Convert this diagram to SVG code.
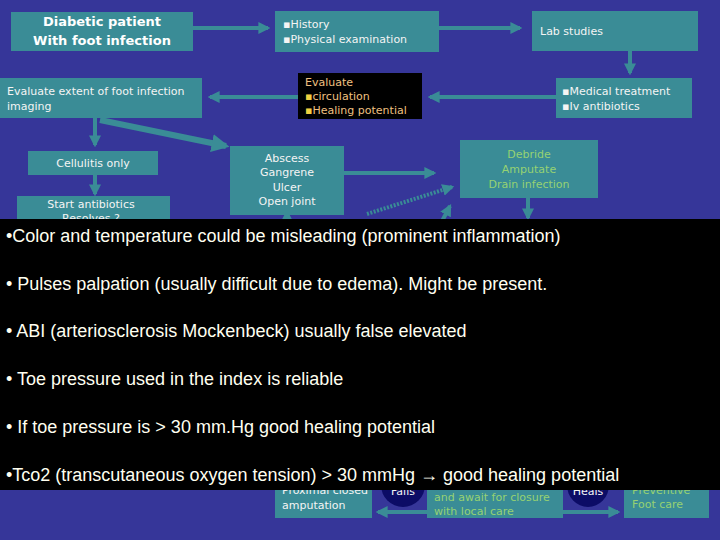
<svg xmlns="http://www.w3.org/2000/svg" width="720" height="540" viewBox="0 0 720 540">
<style>
.b{fill:#3a8c96}
.t{font-family:"DejaVu Sans",sans-serif;font-size:11px;fill:#f4f4f4}
.g{font-family:"DejaVu Sans",sans-serif;font-size:11px;fill:#96d273}
.c{stroke:#3a8c96;stroke-width:4;fill:none}
.ov{font-family:"Liberation Sans",Arial,sans-serif;font-size:18px;fill:#fffff0}
</style>
<defs>
<marker id="a" viewBox="0 0 10 10" refX="8" refY="5" markerWidth="3" markerHeight="3" orient="auto"><path d="M0,0L10,5L0,10z" fill="#3a8c96"/></marker>
</defs>
<rect width="720" height="540" fill="#363699"/>
<g id="connectors">
<line class="c" x1="193" y1="28" x2="268" y2="28" marker-end="url(#a)"/>
<line class="c" x1="439" y1="28" x2="520" y2="28" marker-end="url(#a)"/>
<line class="c" x1="630" y1="51" x2="630" y2="73" marker-end="url(#a)"/>
<line class="c" x1="556" y1="97" x2="430" y2="97" marker-end="url(#a)"/>
<line class="c" x1="298" y1="97" x2="210" y2="97" marker-end="url(#a)"/>
<line class="c" x1="95" y1="118" x2="95" y2="145" marker-end="url(#a)"/>
<line stroke="#3a8c96" stroke-width="6" x1="100" y1="120" x2="226" y2="146" marker-end="url(#a)"/>
<line class="c" x1="95" y1="175" x2="95" y2="194" marker-end="url(#a)"/>
<line class="c" x1="344" y1="173" x2="434" y2="173" marker-end="url(#a)"/>
<line class="c" x1="528" y1="198" x2="528" y2="218" marker-end="url(#a)"/>
<line class="c" stroke-dasharray="2,1.5" x1="367" y1="214" x2="452" y2="187" marker-end="url(#a)"/>
<line class="c" x1="287" y1="222" x2="287" y2="212" marker-end="url(#a)"/>
<line class="c" x1="440" y1="225" x2="450" y2="206" marker-end="url(#a)"/>
<line class="c" x1="427" y1="512" x2="378" y2="512" marker-end="url(#a)"/>
<line class="c" x1="563" y1="512" x2="618" y2="512" marker-end="url(#a)"/>
</g>
<g id="n1"><rect class="b" x="11" y="12" width="182" height="39"/>
<text font-family="DejaVu Sans,sans-serif" font-weight="bold" font-size="13" fill="#fff" text-anchor="middle"><tspan x="102" y="26">Diabetic patient</tspan><tspan x="102" y="45">With foot infection</tspan></text></g>
<g id="n2"><rect class="b" x="275" y="11" width="164" height="41"/>
<text class="t"><tspan x="283" y="28">▪History</tspan><tspan x="283" y="43">▪Physical examination</tspan></text></g>
<g id="n3"><rect class="b" x="532" y="11" width="166" height="40"/><text class="t" x="540" y="35">Lab studies</text></g>
<g id="n4"><rect class="b" x="556" y="78" width="136" height="40"/>
<text class="t"><tspan x="562" y="95">▪Medical treatment</tspan><tspan x="562" y="110">▪Iv antibiotics</tspan></text></g>
<g id="n5"><rect fill="#000" x="298" y="73" width="124" height="46"/>
<text font-family="DejaVu Sans,sans-serif" font-size="11" fill="#f0c080"><tspan x="305" y="86">Evaluate</tspan><tspan x="305" y="100"><tspan fill="#f0d040">▪</tspan>circulation</tspan><tspan x="305" y="114"><tspan fill="#f0d040">▪</tspan>Healing potential</tspan></text></g>
<g id="n6"><rect class="b" x="0" y="78" width="202" height="40"/>
<text class="t"><tspan x="7" y="95">Evaluate extent of foot infection</tspan><tspan x="7" y="110">imaging</tspan></text></g>
<g id="n7"><rect class="b" x="28" y="151" width="130" height="24"/><text class="t" x="93" y="167" text-anchor="middle">Cellulitis only</text></g>
<g id="n8"><rect class="b" x="17" y="196" width="153" height="30"/>
<text class="t" text-anchor="middle"><tspan x="91" y="208">Start antibiotics</tspan><tspan x="91" y="222">Resolves ?</tspan></text></g>
<g id="n9"><rect class="b" x="230" y="146" width="114" height="69"/>
<text class="t" text-anchor="middle"><tspan x="287" y="162">Abscess</tspan><tspan x="287" y="176">Gangrene</tspan><tspan x="287" y="191">Ulcer</tspan><tspan x="287" y="205">Open joint</tspan></text></g>
<g id="n10"><rect class="b" x="460" y="140" width="138" height="58"/>
<text class="g" text-anchor="middle"><tspan x="529" y="158">Debride</tspan><tspan x="529" y="173">Amputate</tspan><tspan x="529" y="188">Drain infection</tspan></text></g>
<g id="n11"><rect class="b" x="275" y="470" width="97" height="48"/>
<text class="t"><tspan x="282" y="494">Proximal closed</tspan><tspan x="282" y="509">amputation</tspan></text></g>
<g id="n12"><ellipse cx="403" cy="485" rx="22" ry="22" fill="#0c0c66"/><text class="t" x="403" y="495" text-anchor="middle">Fails</text></g>
<g id="n13"><rect class="b" x="427" y="470" width="136" height="48"/>
<text class="g"><tspan x="434" y="501">and await for closure</tspan><tspan x="434" y="515">with local care</tspan></text></g>
<g id="n14"><ellipse cx="588" cy="485" rx="21" ry="22" fill="#0c0c66"/><text class="t" x="588" y="495" text-anchor="middle">Heals</text></g>
<g id="n15"><rect class="b" x="624" y="470" width="85" height="48"/>
<text class="g"><tspan x="632" y="494">Preventive</tspan><tspan x="632" y="508">Foot care</tspan></text></g>
<g id="overlay"><rect x="0" y="219" width="720" height="271" fill="#000"/>
<text class="ov" x="6" y="242">•Color and temperature could be misleading (prominent inflammation)</text>
<text class="ov" x="6" y="290">• Pulses palpation (usually difficult due to edema). Might be present.</text>
<text class="ov" x="6" y="337">• ABI (arteriosclerosis Mockenbeck) usually false elevated</text>
<text class="ov" x="6" y="385">• Toe pressure used in the index is reliable</text>
<text class="ov" x="6" y="433">• If toe pressure is &gt; 30 mm.Hg good healing potential</text>
<text class="ov" x="6" y="481">•Tco2 (transcutaneous oxygen tension) &gt; 30 mmHg → good healing potential</text>
</g>
</svg>
